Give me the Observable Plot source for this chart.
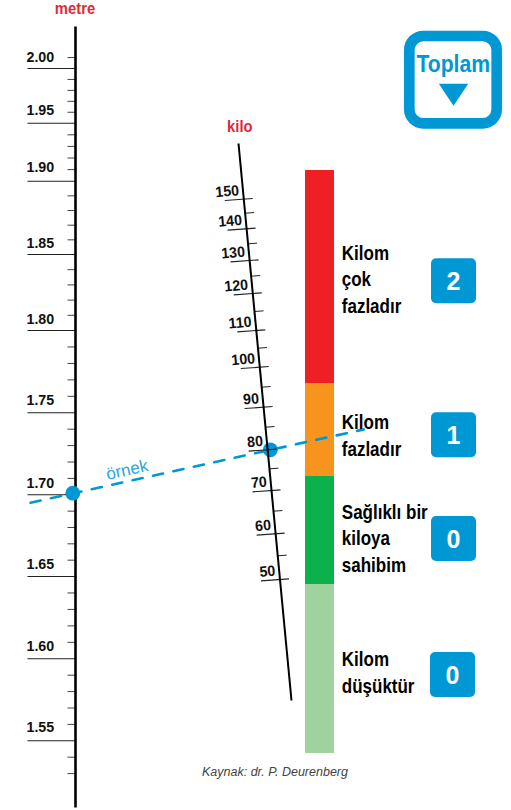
<!DOCTYPE html>
<html lang="tr">
<head>
<meta charset="utf-8">
<script src="https://cdn.jsdelivr.net/npm/d3@7"></script>
<script src="https://cdn.jsdelivr.net/npm/@observablehq/plot@0.6"></script>
<style>html,body{margin:0;padding:0;background:#fff}svg{display:block}</style>
</head>
<body>
<div id="chart"></div>
<script>
// ---- values ----
const heightLabels = [1.55, 1.60, 1.65, 1.70, 1.75, 1.80, 1.85, 1.90, 1.95, 2.00];
const heightMinor = [1.53,1.54,1.56,1.57,1.58,1.59,1.61,1.62,1.63,1.64,1.66,1.67,1.68,1.69,1.71,1.72,1.73,1.74,
  1.76,1.77,1.78,1.79,1.81,1.82,1.83,1.84,1.86,1.87,1.88,1.89,1.91,1.92,1.93,1.94,1.96,1.97,1.98,1.99,2.01];
const weightLabels = [50, 60, 70, 80, 90, 100, 110, 120, 130, 140, 150];
const weightMinor = [55, 65, 75, 85, 95, 105, 115, 125, 135, 145];
const bmiEdges = [50, 30, 25, 18.5, 10];
const bandColors = ["#ee2026", "#f7941e", "#0db14b", "#9fd39d"];
const bandTexts = ["Kilom\nçok\nfazladır", "Kilom\nfazladır", "Sağlıklı bir\nkiloya\nsahibim", "Kilom\ndüşüktür"];
const bandScores = ["2", "1", "0", "0"];
const exampleHeight = 1.70;
const exampleWeight = 80;
const titles = {height: "metre", weight: "kilo", example: "örnek", total: "Toplam", source: "Kaynak: dr. P. Deurenberg"};

// ---- nomogram scales (hand-spaced in the original) ----
const yHeight = d3.scaleLinear().domain(heightLabels)
  .range([740.3, 658.3, 576, 494.3, 412.3, 330, 254, 180.7, 122.7, 68]);
const yWeight = d3.scaleLinear().domain(d3.range(50, 151, 5))
  .range([579, 555.3, 533.3, 510.7, 490, 468.3, 449.3, 426.7, 406.7, 386.7, 366.7, 347.7, 330, 311, 293, 275.7, 260, 243.3, 228.3, 212.7, 198.7]);
const yBmi = d3.scaleLinear().domain(bmiEdges).range([170, 383, 476, 584, 753]);
const xHeightAxis = 75;
const xWeightAxis = y => 238 + (y - 143) * 53 / 557;
const tilt = 0.072;

const blue = "#0098d4", red = "#dd2a35", ink = "#111";
const bold = {fontWeight: "bold", fill: ink};

const bands = bandColors.map((c, i) => ({c, top: bmiEdges[i], bottom: bmiEdges[i + 1], text: bandTexts[i], score: bandScores[i]}));
const exampleLine = [{x: 30, y: 502.2}, {x: 363.3, y: 428.9}];
const boxX = [431, 431, 431, 430];
const boxTop = [258.3, 412.3, 516, 652];
const textBase = [312, 455, 571, 692];
const heightLift = [9, 8, 7.2, 7.3, 8, 6.8, 6.8, 9.4, 8.7, 7];
const tickW = w => { const y = yWeight(w); return {w, y, x: xWeightAxis(y)}; };

const plot = Plot.plot({
  width: 511, height: 810,
  marginTop: 0, marginRight: 0, marginBottom: 0, marginLeft: 0,
  x: {domain: [0, 511], range: [0, 511], axis: null},
  y: {domain: [0, 810], range: [0, 810], axis: null},
  style: {background: "#fff", fontFamily: "'Liberation Sans'"},
  marks: [
    // BMI bar
    Plot.rect(bands, {x1: 305, x2: 334, y1: d => yBmi(d.top), y2: d => yBmi(d.bottom), fill: "c"}),

    // height axis
    Plot.link(heightMinor, {x1: 67, x2: xHeightAxis, y1: d => yHeight(d), y2: d => yHeight(d), stroke: "#444", strokeWidth: 1}),
    Plot.link(heightLabels, {x1: 27, x2: xHeightAxis, y1: d => yHeight(d), y2: d => yHeight(d), stroke: "#222", strokeWidth: 1.1}),
    Plot.text(heightLabels, {x: 26, y: (d, i) => yHeight(d) - heightLift[i], text: d => d.toFixed(2), textAnchor: "start", lineAnchor: "bottom", fontSize: 15, className: "c95", ...bold}),
    Plot.text([titles.height], {x: 74.5, y: 13, text: d => d, textAnchor: "middle", lineAnchor: "bottom", fontSize: 17, fontWeight: "bold", className: "c87", fill: red}),

    // example line and weight dot sit under the weight axis
    Plot.line(exampleLine, {x: "x", y: "y", stroke: blue, strokeWidth: 2.6, strokeDasharray: "10.3,10.6", curve: "linear"}),
    Plot.dot([{x: xWeightAxis(yWeight(exampleWeight)) + 2.7, y: yWeight(exampleWeight)}], {x: "x", y: "y", r: 7.4, fill: blue, stroke: null}),
    Plot.text([titles.example], {x: 126.5, y: 469.5, text: d => d, textAnchor: "middle", fontSize: 17, rotate: -12.4, fill: "#2aa6dc"}),

    // weight axis
    Plot.link(weightMinor.map(tickW), {x1: "x", y1: "y", x2: d => d.x + 9, y2: d => d.y - 9 * tilt, stroke: "#222", strokeWidth: 1}),
    Plot.link(weightLabels.map(tickW), {x1: d => d.x - 19, y1: d => d.y + 19 * tilt, x2: d => d.x + 9, y2: d => d.y - 9 * tilt, stroke: "#222", strokeWidth: 1.1}),
    Plot.text(weightLabels.map(tickW), {x: d => d.x - 4.3, y: d => d.y - 4, text: "w", textAnchor: "end", lineAnchor: "bottom", rotate: -5, fontSize: 15, className: "c95", ...bold}),
    Plot.text([titles.weight], {x: 239.3, y: 131, text: d => d, textAnchor: "middle", lineAnchor: "bottom", fontSize: 17, fontWeight: "bold", className: "c87", fill: red}),

    // axis lines
    Plot.link([0], {x1: xHeightAxis, x2: xHeightAxis, y1: 26, y2: 807, stroke: "#000", strokeWidth: 2.6}),
    Plot.link([0], {x1: 238, y1: 143, x2: 291, y2: 700, stroke: "#000", strokeWidth: 2}),

    // height dot sits over the height axis
    Plot.dot([{x: xHeightAxis - 2.7, y: yHeight(exampleHeight) - 1.6}], {x: "x", y: "y", r: 7.4, fill: blue, stroke: null}),

    // band labels
    Plot.text(bands, {x: 341.3, y: (d, i) => textBase[i], text: "text", textAnchor: "start", lineAnchor: "bottom", lineHeight: 1.31, fontSize: 20, fontWeight: "bold", className: "c85", fill: "#000"}),

    // score boxes
    Plot.rect(bands, {x1: (d, i) => boxX[i], x2: (d, i) => boxX[i] + 45, y1: (d, i) => boxTop[i], y2: (d, i) => boxTop[i] + 45, rx: 5, fill: blue}),
    Plot.text(bands, {x: (d, i) => boxX[i] + 22, y: (d, i) => boxTop[i] + 23, text: "score", textAnchor: "middle", fontSize: 25, fontWeight: "bold", fill: "#fff"}),

    // total key
    Plot.rect([0], {x1: 409.3, x2: 496.7, y1: 36, y2: 123.3, rx: 14, fill: "none", stroke: blue, strokeWidth: 10.7}),
    Plot.text([titles.total], {x: 452.7, y: 71.7, text: d => d, textAnchor: "middle", lineAnchor: "bottom", fontSize: 23.5, fontWeight: "bold", className: "c90", fill: blue}),
    Plot.line([{x: 438.3, y: 83.3}, {x: 467.7, y: 83.3}, {x: 453, y: 105.3}], {x: "x", y: "y", fill: blue, stroke: null}),

    // source
    Plot.text([titles.source], {x: 274.5, y: 775.3, text: d => d, textAnchor: "middle", lineAnchor: "bottom", fontSize: 12.5, fontStyle: "italic", fill: "#444"})
  ]
});
// the original type is a condensed grotesque: squeeze the text horizontally around its anchor
for (const [cls, k] of [["c85", .85], ["c87", .87], ["c90", .90], ["c95", .95]]) {
  plot.querySelectorAll(`g.${cls} text`).forEach(t => {
    const tr = t.getAttribute("transform") || "";
    t.setAttribute("transform", `${tr} scale(${k},1)`.trim());
  });
}
document.getElementById("chart").append(plot);
</script>
</body>
</html>
